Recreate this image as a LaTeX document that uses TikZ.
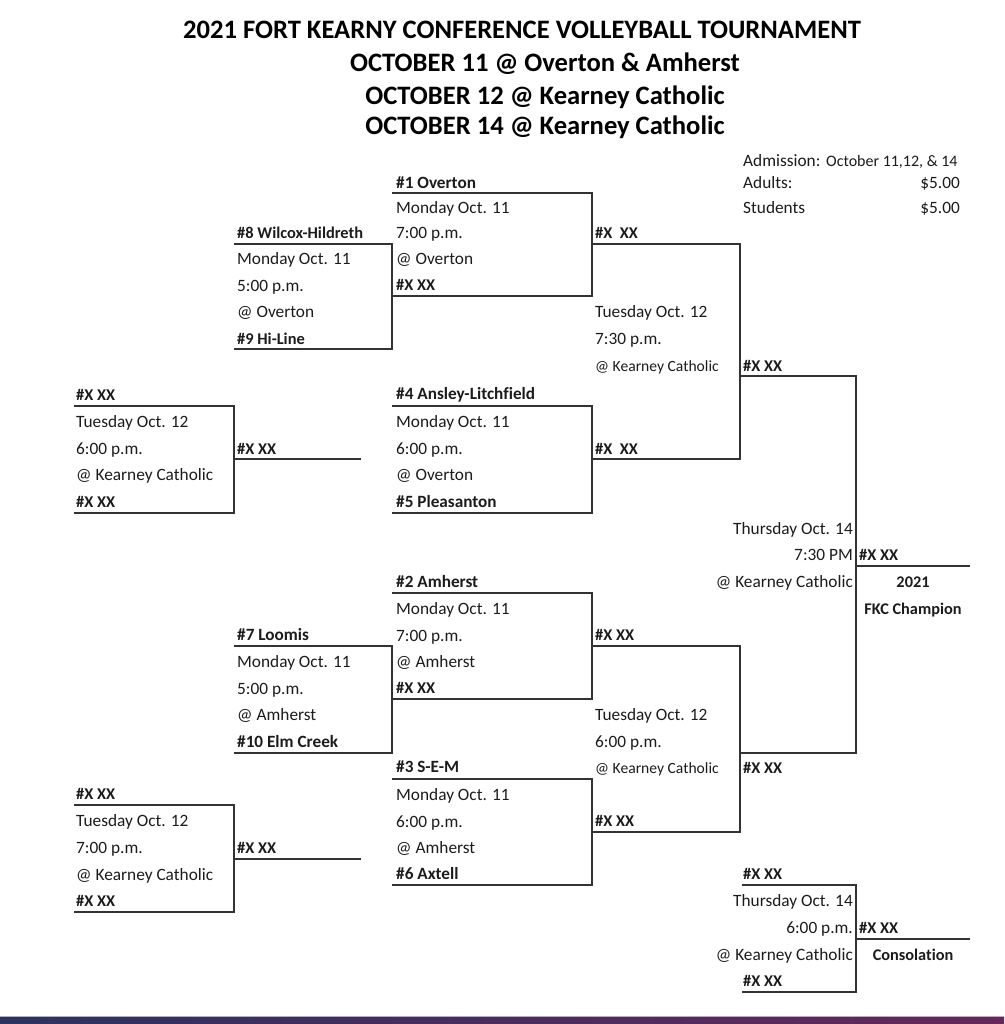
\documentclass[tikz,border=0pt]{standalone}
\usepackage{fontspec}
\setmainfont{Carlito}[Ligatures=NoCommon]
\definecolor{ink}{HTML}{1C1C1C}
\definecolor{rule}{HTML}{333333}
\tikzset{
  x=1pt,y=-1pt,
  txt/.style={anchor=base west,inner sep=0pt,yshift=-0.6pt,text=ink,font=\fontsize{17.3}{19}\selectfont},
  txtr/.style={txt,anchor=base east},
  txtc/.style={anchor=base,inner sep=0pt,yshift=-0.6pt,text=ink,font=\fontsize{16.3}{18}\bfseries\selectfont},
  bld/.style={txt,font=\fontsize{16.4}{19}\bfseries\selectfont},
  team/.style={txt,font=\fontsize{17.2}{19}\bfseries\selectfont},
  sml/.style={txt,font=\fontsize{15.6}{18}\selectfont},
  ttl/.style={anchor=base,inner sep=0pt,yshift=-1pt,text=black,font=\fontsize{26.6}{29}\bfseries\selectfont},
  bk/.style={draw=rule,line width=1.4pt,line cap=butt,line join=miter}
}
\begin{document}
\begin{tikzpicture}
\useasboundingbox (0,0) rectangle (1004,1024);
\fill[white] (0,0) rectangle (1004,1024);
\shade[left color={rgb,255:red,45;green,50;blue,95},right color={rgb,255:red,100;green,40;blue,90}] (0,1017) rectangle (1004,1024);
\fill[black!30] (0,1016) rectangle (1004,1017);
% titles
\node[ttl] (t1) at (522,38) {2021 FORT KEARNY CONFERENCE VOLLEYBALL TOURNAMENT};
\node[ttl] (t2) at (545,71) {OCTOBER 11 @ Overton \& Amherst};
\node[ttl] (t3) at (545,104) {OCTOBER 12 @ Kearney Catholic};
\node[ttl] (t4) at (545,134) {OCTOBER 14 @ Kearney Catholic};
% admission
\node[txt] (ad1) at (743,166) {Admission:};
\node[sml,font=\fontsize{16}{18}\selectfont] (ad2) at (826,166) {October 11,12, \& 14};
\node[txt] (ad3) at (743,188) {Adults:};
\node[txtr] (ad4) at (960,188) {\$5.00};
\node[txt] (ad5) at (743,213) {Students};
\node[txtr] (ad6) at (960,213) {\$5.00};
% game 1
\node[team] (a1) at (396,188) {\#1 Overton};
\node[txt] (a2) at (396,213) {Monday Oct. 11};
\node[txt] (a3) at (396,238) {7:00 p.m.};
\node[txt] (a4) at (396,264) {@ Overton};
\node[bld] (a5) at (396,290) {\#X XX};
% game 8/9
\node[bld] (b1) at (237,238) {\#8 Wilcox-Hildreth};
\node[txt] (b2) at (237,264) {Monday Oct. 11};
\node[txt] (b3) at (237,291) {5:00 p.m.};
\node[txt] (b4) at (237,317) {@ Overton};
\node[bld] (b5) at (237,344) {\#9 Hi-Line};
% semi 1
\node[bld] (c1) at (595,238) {\#X\ \ XX};
\node[txt] (c2) at (595,317) {Tuesday Oct. 12};
\node[txt] (c3) at (595,344) {7:30 p.m.};
\node[sml] (c4) at (595,371) {@ Kearney Catholic};
\node[bld] (c5) at (743,371) {\#X XX};
\node[bld] (c6) at (595,454) {\#X\ \ XX};
% game 4/5
\node[team] (d1) at (396,399) {\#4 Ansley-Litchfield};
\node[txt] (d2) at (396,427) {Monday Oct. 11};
\node[txt] (d3) at (396,454) {6:00 p.m.};
\node[txt] (d4) at (396,480) {@ Overton};
\node[team] (d5) at (396,507) {\#5 Pleasanton};
% left 1
\node[bld] (e1) at (76,400) {\#X XX};
\node[txt] (e2) at (76,427) {Tuesday Oct. 12};
\node[txt] (e3) at (76,454) {6:00 p.m.};
\node[txt] (e4) at (76,480) {@ Kearney Catholic};
\node[bld] (e5) at (76,507) {\#X XX};
\node[bld] (e6) at (237,454) {\#X XX};
% final
\node[txtr] (f1) at (853,534) {Thursday Oct. 14};
\node[txtr] (f2) at (853,560) {7:30 PM};
\node[txtr] (f3) at (853,587) {@ Kearney Catholic};
\node[bld] (f4) at (859,560) {\#X XX};
\node[txtc] (f5) at (913,587) {2021};
\node[txtc] (f6) at (913,614) {FKC Champion};
% game 2
\node[team] (g1) at (396,587) {\#2 Amherst};
\node[txt] (g2) at (396,614) {Monday Oct. 11};
\node[txt] (g3) at (396,641) {7:00 p.m.};
\node[txt] (g4) at (396,667) {@ Amherst};
\node[bld] (g5) at (396,693) {\#X XX};
% game 7/10
\node[team] (h1) at (237,640) {\#7 Loomis};
\node[txt] (h2) at (237,667) {Monday Oct. 11};
\node[txt] (h3) at (237,694) {5:00 p.m.};
\node[txt] (h4) at (237,720) {@ Amherst};
\node[team] (h5) at (237,747) {\#10 Elm Creek};
% semi 2
\node[bld] (i1) at (595,640) {\#X XX};
\node[txt] (i2) at (595,720) {Tuesday Oct. 12};
\node[txt] (i3) at (595,747) {6:00 p.m.};
\node[sml] (i4) at (595,773) {@ Kearney Catholic};
\node[bld] (i5) at (743,773) {\#X XX};
\node[bld] (i6) at (595,826) {\#X XX};
% game 3/6
\node[team] (j1) at (396,772) {\#3 S-E-M};
\node[txt] (j2) at (396,800) {Monday Oct. 11};
\node[txt] (j3) at (396,827) {6:00 p.m.};
\node[txt] (j4) at (396,853) {@ Amherst};
\node[team] (j5) at (396,879) {\#6 Axtell};
% left 2
\node[bld] (k1) at (76,799) {\#X XX};
\node[txt] (k2) at (76,826) {Tuesday Oct. 12};
\node[txt] (k3) at (76,853) {7:00 p.m.};
\node[txt] (k4) at (76,880) {@ Kearney Catholic};
\node[bld] (k5) at (76,906) {\#X XX};
\node[bld] (k6) at (237,853) {\#X XX};
% consolation
\node[bld] (l1) at (743,879) {\#X XX};
\node[txtr] (l2) at (853,906) {Thursday Oct. 14};
\node[txtr] (l3) at (853,933) {6:00 p.m.};
\node[txtr] (l4) at (853,960) {@ Kearney Catholic};
\node[bld] (l5) at (859,933) {\#X XX};
\node[txtc] (l6) at (913,960) {Consolation};
\node[bld] (l7) at (743,986) {\#X XX};
% bracket corners
\foreach \n/\x/\y in {
 p1/392/193,p2/592/193,p3/592/296,p4/392/296,
 q1/234/244,q2/392/244,q3/392/349,q4/234/349,
 r1/392/406,r2/592/406,r3/592/513,r4/392/513,
 s1/592/244,s2/740/244,s3/740/459,s4/592/459,
 u1/740/376,u2/856/376,u3/856/753,u4/740/753,
 v1/392/593,v2/592/593,v3/592/699,v4/392/699,
 w1/234/646,w2/392/646,w3/392/753,w4/234/753,
 y1/392/779,y2/592/779,y3/592/885,y4/392/885,
 z1/592/646,z2/740/646,z3/740/832,z4/592/832,
 m1/74/406,m2/234/406,m3/234/513,m4/74/513,m5/234/459,m6/361/459,
 n1/74/805,n2/234/805,n3/234/912,n4/74/912,n5/234/859,n6/361/859,
 o1/856/566,o2/970/566,
 x1/742/885,x2/856/885,x3/856/992,x4/742/992,x5/856/939,x6/970/939}
 {\coordinate (\n) at (\x,\y);}
\draw[bk] (p1) -- (p2) -- (p3) -- (p4);
\draw[bk] (q1) -- (q2) -- (q3) -- (q4);
\draw[bk] (r1) -- (r2) -- (r3) -- (r4);
\draw[bk] (s1) -- (s2) -- (s3) -- (s4);
\draw[bk] (u1) -- (u2) -- (u3) -- (u4);
\draw[bk] (v1) -- (v2) -- (v3) -- (v4);
\draw[bk] (w1) -- (w2) -- (w3) -- (w4);
\draw[bk] (y1) -- (y2) -- (y3) -- (y4);
\draw[bk] (z1) -- (z2) -- (z3) -- (z4);
\draw[bk] (m1) -- (m2) -- (m3) -- (m4);
\draw[bk] (m5) -- (m6);
\draw[bk] (n1) -- (n2) -- (n3) -- (n4);
\draw[bk] (n5) -- (n6);
\draw[bk] (o1) -- (o2);
\draw[bk] (x1) -- (x2) -- (x3) -- (x4);
\draw[bk] (x5) -- (x6);
\end{tikzpicture}
\end{document}
